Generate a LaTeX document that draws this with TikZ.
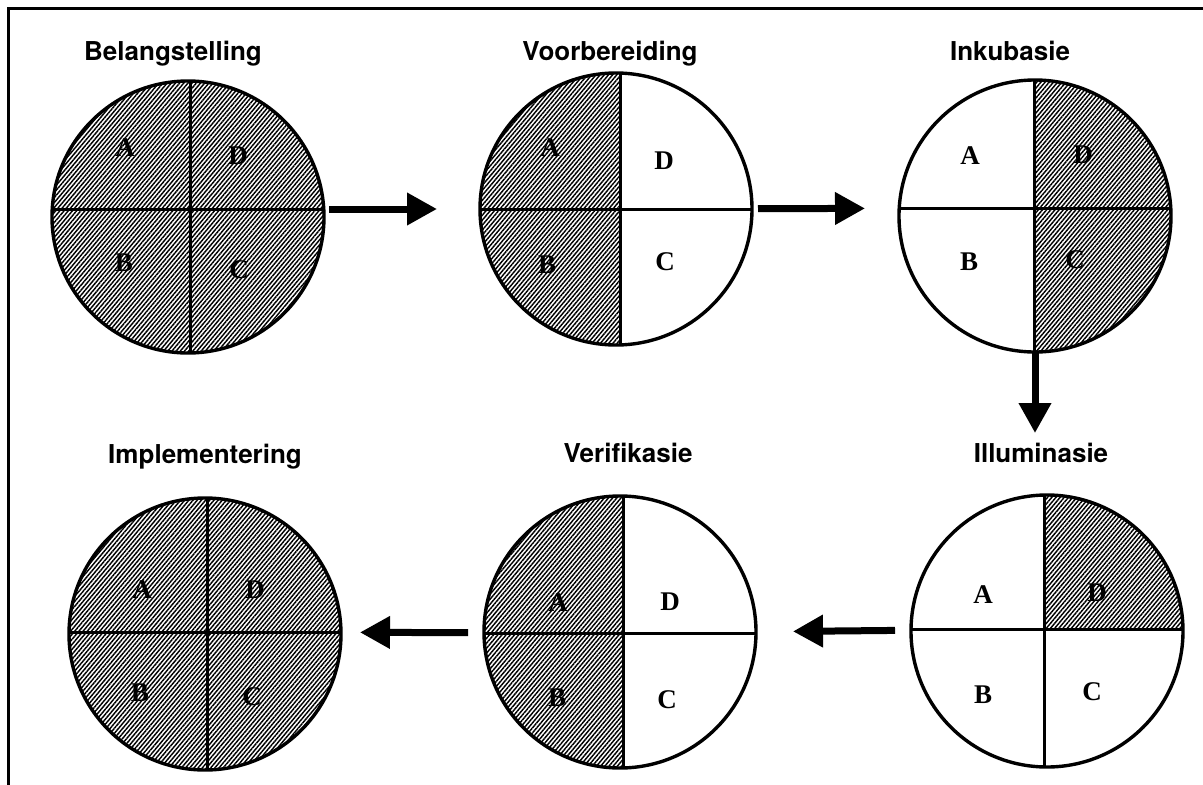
\documentclass[tikz,border=0pt]{standalone}
\usepackage{fontspec}
\newfontfamily\headfont{TeX Gyre Heros}
\newfontfamily\letterfont{Liberation Serif}
\usetikzlibrary{arrows.meta,patterns.meta}

% one stage disc: hatched region and the two dividers, clipped to the disc
\newcommand\discbody[4]{% #1 centre, #2 crossing name, #3/#4 corners of the hatched box
  \begin{scope}
    \clip #1 circle[radius=136pt];
    \path[hatch] #3 rectangle #4;
    \draw[divider] ([xshift=-160pt]#2) -- ([xshift=160pt]#2);
    \draw[divider] ([yshift=-160pt]#2) -- ([yshift=160pt]#2);
  \end{scope}}

\begin{document}
\begin{tikzpicture}[x=1pt,y=-1pt,
  ring/.style={circle,draw,line width=3.4pt,minimum size=272pt,inner sep=0pt,outer sep=0pt},
  divider/.style={line width=3pt},
  hatch/.style={pattern={Lines[angle=50,distance=3.2pt,line width=1.45pt]}},
  stage/.style={font=\headfont\bfseries\fontsize{26}{31}\selectfont,anchor=base,inner sep=0pt},
  part/.style={font=\letterfont\bfseries\fontsize{27}{32}\selectfont,inner sep=0pt},
  flow/.style={line width=7pt,-{Triangle[length=30pt,width=31pt]}},
  frame/.style={line width=3pt},
]
\useasboundingbox (0,0) rectangle (1203,785);

% outer frame (top and left edges)
\draw[frame] (8,785) -- (8,8) -- (1203,8);

% crossing points of the dividers
\coordinate (o1) at (190,209);
\coordinate (o2) at (620,209);
\coordinate (o3) at (1034,208);
\coordinate (o4) at (1044,629);
\coordinate (o5) at (623,633);
\coordinate (o6) at (207,632);

% disc interiors
\discbody{(188,217)}{o1}{(40,70)}{(340,370)}
\discbody{(616,209)}{o2}{(470,60)}{(620,360)}
\discbody{(1035,216)}{o3}{(1034,70)}{(1190,370)}
\discbody{(1047,631)}{o4}{(1044,629)}{(1195,480)}
\discbody{(620,632)}{o5}{(470,480)}{(623,780)}
\discbody{(205,634)}{o6}{(55,480)}{(355,780)}

% disc outlines
\node[ring] (c1) at (188,217) {};
\node[ring] (c2) at (616,209) {};
\node[ring] (c3) at (1035,216) {};
\node[ring] (c4) at (1047,631) {};
\node[ring] (c5) at (620,632) {};
\node[ring] (c6) at (205,634) {};

% stage titles
\node[stage] (t1) at (173,60) {Belangstelling};
\node[stage] (t2) at (610,60) {Voorbereiding};
\node[stage] (t3) at (1010,60) {Inkubasie};
\node[stage] (t4) at (1041,462) {Illuminasie};
\node[stage] (t5) at (628,462) {Verifikasie};
\node[stage] (t6) at (205,463) {Implementering};

% quadrant letters
\node[part] (l1a) at (125,148) {A};
\node[part] (l1d) at (238,156) {D};
\node[part] (l1b) at (124,263) {B};
\node[part] (l1c) at (239,270) {C};

\node[part] (l2a) at (550,148) {A};
\node[part] (l2d) at (664,161) {D};
\node[part] (l2b) at (547,265) {B};
\node[part] (l2c) at (665,262) {C};

\node[part] (l3a) at (970,156) {A};
\node[part] (l3d) at (1083,155) {D};
\node[part] (l3b) at (969,262) {B};
\node[part] (l3c) at (1075,260) {C};

\node[part] (l4a) at (983,595) {A};
\node[part] (l4d) at (1097,593) {D};
\node[part] (l4b) at (983,695) {B};
\node[part] (l4c) at (1092,692) {C};

\node[part] (l5a) at (558,603) {A};
\node[part] (l5d) at (670,602) {D};
\node[part] (l5b) at (557,698) {B};
\node[part] (l5c) at (667,700) {C};

\node[part] (l6a) at (142,590) {A};
\node[part] (l6d) at (255,590) {D};
\node[part] (l6b) at (140,693) {B};
\node[part] (l6c) at (252,697) {C};

% flow between the stages
\draw[flow,shorten <=139pt,shorten >=183pt] (o1) -- (o2);
\draw[flow,shorten <=138pt,shorten >=169pt] (o2) -- (o3);
\draw[flow,shorten >=62pt] (c3.south) -- (c3.south |- c4.north);
\draw[flow,shorten <=149pt,shorten >=170pt] (o4) -- (o5);
\draw[flow,shorten <=155pt,shorten >=153pt] (o5) -- (o6);
\end{tikzpicture}
\end{document}
